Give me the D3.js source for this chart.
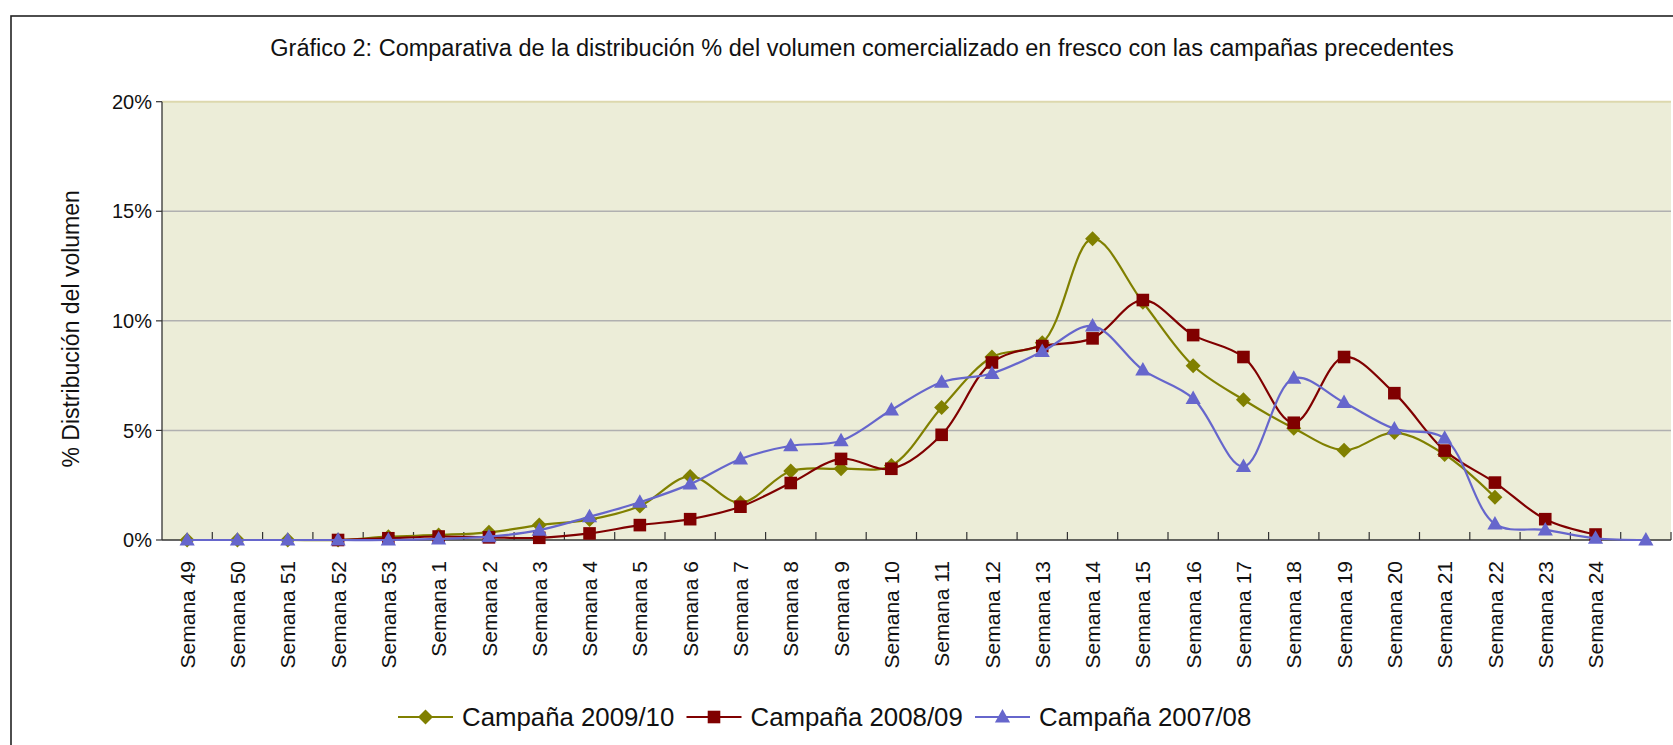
<!DOCTYPE html>
<html lang="es">
<head>
<meta charset="UTF-8">
<title>Gráfico 2</title>
<script src="https://d3js.org/d3.v7.min.js"></script>
<style>
  body { margin: 0; background: #fff; }
  svg { display: block; font-family: "Liberation Sans", Arial, sans-serif; }
  .grid { stroke: #b0b0b0; stroke-width: 1.5; }
  .axis-line { stroke: #333; stroke-width: 1.3; }
  .tick-mark { stroke: #333; stroke-width: 1.2; }
</style>
</head>
<body>
<svg id="chart" width="1673" height="745"></svg>
<script>
// categorías (última vacía)
const categories = ["Semana 49", "Semana 50", "Semana 51", "Semana 52", "Semana 53",
  "Semana 1", "Semana 2", "Semana 3", "Semana 4", "Semana 5", "Semana 6", "Semana 7",
  "Semana 8", "Semana 9", "Semana 10", "Semana 11", "Semana 12", "Semana 13", "Semana 14",
  "Semana 15", "Semana 16", "Semana 17", "Semana 18", "Semana 19", "Semana 20",
  "Semana 21", "Semana 22", "Semana 23", "Semana 24", ""];

// % distribución del volumen
const campana0910 = [0, 0, 0, 0, 0.15, 0.23, 0.35, 0.68, 0.93, 1.55, 2.9, 1.7, 3.15, 3.25,
  3.4, 6.05, 8.35, 9.0, 13.75, 10.85, 7.95, 6.4, 5.1, 4.1, 4.9, 3.9, 1.95, null, null, null];
const campana0809 = [null, null, null, 0, 0.08, 0.16, 0.12, 0.1, 0.3, 0.68, 0.95, 1.52, 2.6,
  3.7, 3.25, 4.8, 8.1, 8.85, 9.2, 10.95, 9.35, 8.35, 5.35, 8.35, 6.7, 4.08, 2.62, 0.95, 0.25, null];
const campana0708 = [0, 0, 0, 0, 0, 0.05, 0.15, 0.45, 1.06, 1.72, 2.55, 3.7, 4.3, 4.53,
  5.93, 7.2, 7.6, 8.6, 9.76, 7.76, 6.46, 3.35, 7.38, 6.27, 5.07, 4.64, 0.73, 0.46, 0.08, 0];

const seriesNames = ["Campaña 2009/10", "Campaña 2008/09", "Campaña 2007/08"];
const seriesColors = ["#808000", "#800000", "#6666cc"];
const seriesMarkers = ["diamond", "square", "triangle"];
const yTicks = [0, 5, 10, 15, 20];

const series = [campana0910, campana0809, campana0708].map((vals, i) => ({
  name: seriesNames[i], color: seriesColors[i], marker: seriesMarkers[i],
  points: vals.map((v, j) => ({ cat: categories[j], v: v }))
}));

const svg = d3.select("#chart");
const plot = { left: 162, right: 1671, top: 101.7, bottom: 540 };

const x = d3.scaleBand().domain(categories).range([plot.left, plot.right]).padding(0);
const y = d3.scaleLinear().domain([0, 20]).range([plot.bottom, plot.top]);
const cx = c => x(c) + x.bandwidth() / 2;

// marco exterior
svg.append("rect")
  .attr("x", 11).attr("y", 16).attr("width", 1720).attr("height", 760)
  .attr("fill", "#fff").attr("stroke", "#222").attr("stroke-width", 1.6);

// título
svg.append("text")
  .attr("x", 862).attr("y", 56)
  .attr("text-anchor", "middle")
  .attr("font-size", 23.5).attr("fill", "#111")
  .text("Gráfico 2: Comparativa de la distribución % del volumen comercializado en fresco con las campañas precedentes");

// fondo del área de trazado
svg.append("rect")
  .attr("x", plot.left).attr("y", plot.top)
  .attr("width", plot.right - plot.left).attr("height", plot.bottom - plot.top)
  .attr("fill", "#ecedd8");
svg.append("line")
  .attr("x1", plot.left).attr("x2", plot.right)
  .attr("y1", plot.top).attr("y2", plot.top)
  .attr("stroke", "#ddd8ae").attr("stroke-width", 2);

// líneas de cuadrícula
svg.selectAll(".grid").data(yTicks.filter(t => t > 0 && t < 20)).join("line")
  .attr("class", "grid")
  .attr("x1", plot.left).attr("x2", plot.right)
  .attr("y1", d => y(d)).attr("y2", d => y(d));

// eje Y
svg.append("line").attr("class", "axis-line")
  .attr("x1", plot.left).attr("x2", plot.left)
  .attr("y1", plot.top).attr("y2", plot.bottom);
svg.selectAll(".ytick").data(yTicks).join("line")
  .attr("class", "tick-mark")
  .attr("x1", plot.left - 6).attr("x2", plot.left)
  .attr("y1", d => y(d)).attr("y2", d => y(d));
svg.selectAll(".ylabel").data(yTicks).join("text")
  .attr("x", plot.left - 10).attr("y", d => y(d))
  .attr("dy", "0.36em").attr("text-anchor", "end")
  .attr("font-size", 20).attr("fill", "#111")
  .text(d => d + "%");

svg.append("text")
  .attr("transform", `translate(79,${(plot.top + plot.bottom) / 2 + 8}) rotate(-90)`)
  .attr("text-anchor", "middle")
  .attr("font-size", 23).attr("fill", "#111")
  .text("% Distribución del volumen");

// eje X
svg.append("line").attr("class", "axis-line")
  .attr("x1", plot.left).attr("x2", plot.right)
  .attr("y1", plot.bottom).attr("y2", plot.bottom);
svg.selectAll(".xtick").data(categories.slice(1).concat(["__end"])).join("line")
  .attr("class", "tick-mark")
  .attr("x1", (d, i) => plot.left + x.step() * (i + 1))
  .attr("x2", (d, i) => plot.left + x.step() * (i + 1))
  .attr("y1", plot.bottom - 8).attr("y2", plot.bottom);
svg.selectAll(".xlabel").data(categories.filter(c => c)).join("text")
  .attr("transform", d => `translate(${cx(d)},${plot.bottom + 21}) rotate(-90)`)
  .attr("dy", "0.36em").attr("text-anchor", "end")
  .attr("font-size", 21).attr("fill", "#111")
  .text(d => d);

// formas de marcador
function markerPath(type) {
  if (type === "diamond") return "M0,-7.5L7.5,0L0,7.5L-7.5,0Z";
  if (type === "square") return "M-6.3,-6.3H6.3V6.3H-6.3Z";
  return "M0,-8L7.6,5.5L-7.6,5.5Z";
}

const line = d3.line()
  .defined(d => d.v !== null)
  .x(d => cx(d.cat)).y(d => y(d.v))
  .curve(d3.curveCatmullRom.alpha(0.5));

const g = svg.selectAll(".series").data(series).join("g").attr("class", "series");
g.append("path")
  .attr("d", d => line(d.points))
  .attr("fill", "none")
  .attr("stroke", d => d.color).attr("stroke-width", 2.2);
g.each(function (s) {
  d3.select(this).selectAll("path.mk").data(s.points.filter(p => p.v !== null)).join("path")
    .attr("class", "mk")
    .attr("transform", p => `translate(${cx(p.cat)},${y(p.v)})`)
    .attr("d", markerPath(s.marker))
    .attr("fill", s.color);
});

// leyenda
const legY = 717;
const leg = svg.selectAll(".leg").data(series).join("g")
  .attr("class", "leg")
  .attr("transform", (d, i) => `translate(${398 + i * 288.5},${legY})`);
leg.append("line")
  .attr("x1", 0).attr("x2", 55).attr("y1", 0).attr("y2", 0)
  .attr("stroke", d => d.color).attr("stroke-width", 2.2);
leg.append("path")
  .attr("transform", "translate(27.5,0)")
  .attr("d", d => markerPath(d.marker))
  .attr("fill", d => d.color);
leg.append("text")
  .attr("x", 64).attr("dy", "0.36em")
  .attr("font-size", 25.8).attr("fill", "#111")
  .text(d => d.name);
</script>
</body>
</html>
